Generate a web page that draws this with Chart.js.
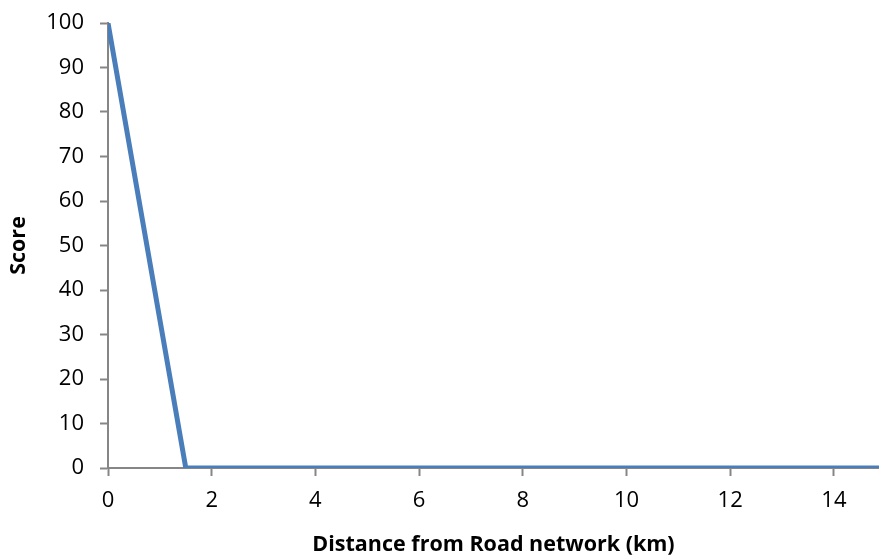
<!DOCTYPE html>
<html>
<head>
<meta charset="utf-8">
<script src="https://cdn.jsdelivr.net/npm/chart.js@4/dist/chart.umd.min.js"></script>
<style>
  html, body { margin: 0; padding: 0; background: #fff; }
  #wrap { width: 879px; height: 558px; }
</style>
</head>
<body>
<div id="wrap"><canvas id="graph"></canvas></div>
<script>
// data
const distanceKm = [0, 1.5, 15];
const scoreVals = [100, 0, 0];
const xTicks = [0, 2, 4, 6, 8, 10, 12, 14];

const axisGrey = '#868686';
const font = 'Open Sans';

let ctx = document.getElementById('graph').getContext('2d');

new Chart(ctx, {
  type: 'scatter',
  data: {
    datasets: [{
      label: 'Score',
      data: distanceKm.map((d, i) => ({ x: d, y: scoreVals[i] })),
      showLine: true,
      borderColor: '#4a7ebb',
      backgroundColor: 'transparent',
      borderWidth: 5,
      pointRadius: 0,
      lineTension: 0
    }]
  },
  options: {
    responsive: true,
    maintainAspectRatio: false,
    animation: false,
    layout: { padding: { top: 23, right: 0, left: 0, bottom: 0 } },
    plugins: { legend: { display: false }, tooltip: { enabled: false } },
    scales: {
      x: {
        type: 'linear',
        min: 0,
        max: 14.87,
        afterBuildTicks: axis => { axis.ticks = xTicks.map(v => ({ value: v })); },
        afterFit: axis => { axis.height = 90; axis.paddingRight = 0; axis.paddingLeft = 0; },
        grid: { drawOnChartArea: false, drawTicks: true, tickLength: 8, tickWidth: 2, tickColor: axisGrey },
        border: { color: axisGrey, width: 2 },
        ticks: { color: '#000', padding: 12, maxRotation: 0, font: { family: font, size: 22 } },
        title: {
          display: true,
          text: 'Distance from Road network (km)',
          color: '#000',
          font: { family: font, size: 21.5, weight: 'bold' },
          padding: { top: 6, bottom: 0 }
        }
      },
      y: {
        min: 0,
        max: 100,
        ticks: { stepSize: 10, color: '#000', padding: 16, font: { family: font, size: 22 } },
        afterFit: axis => { axis.width = 108; axis.paddingTop = 0; axis.paddingBottom = 0; },
        grid: { drawOnChartArea: false, drawTicks: true, tickLength: 8, tickWidth: 2, tickColor: axisGrey },
        border: { color: axisGrey, width: 2 },
        title: {
          display: true,
          text: 'Score',
          color: '#000',
          font: { family: font, size: 21.5, weight: 'bold' },
          padding: { top: 6, bottom: 0 }
        }
      }
    }
  }
});
</script>
</body>
</html>
